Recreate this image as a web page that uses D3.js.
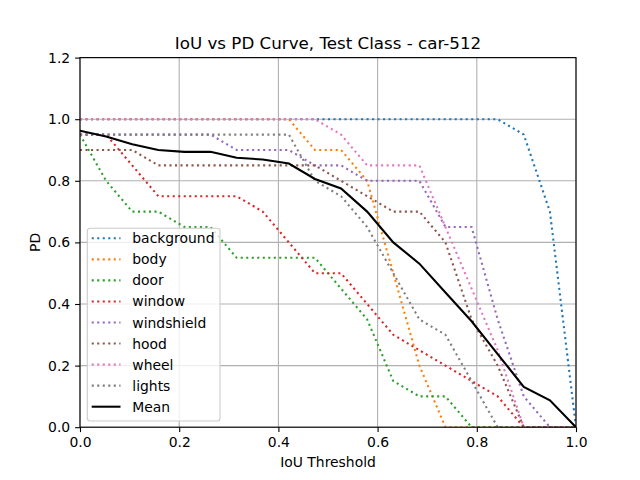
<!DOCTYPE html>
<html>
<head>
<meta charset="utf-8">
<script src="https://cdn.jsdelivr.net/npm/d3@7"></script>
<style>
  body { margin: 0; background: #fff; }
  svg { font-family: "DejaVu Sans", sans-serif; }
</style>
</head>
<body>
<svg id="chart" width="640" height="480"></svg>
<script>
// IoU thresholds (20 evenly spaced points between 0 and 1)
const thresholds = [0, 0.0526, 0.1053, 0.1579, 0.2105, 0.2632, 0.3158, 0.3684, 0.4211, 0.4737,
                    0.5263, 0.5789, 0.6316, 0.6842, 0.7368, 0.7895, 0.8421, 0.8947, 0.9474, 1];

const background = [1, 1, 1, 1, 1, 1, 1, 1, 1, 1, 1, 1, 1, 1, 1, 1, 1, 0.95, 0.7, 0];
const body       = [1, 1, 1, 1, 1, 1, 1, 1, 1, 0.9, 0.9, 0.8, 0.5, 0.2, 0, 0, 0, 0, 0, 0];
const door       = [0.95, 0.8, 0.7, 0.7, 0.65, 0.65, 0.55, 0.55, 0.55, 0.55, 0.45, 0.35, 0.15, 0.1, 0.1, 0, 0, 0, 0, 0];
const window_    = [0.95, 0.95, 0.85, 0.75, 0.75, 0.75, 0.75, 0.7, 0.6, 0.5, 0.5, 0.4, 0.3, 0.25, 0.2, 0.15, 0.1, 0, 0, 0];
const windshield = [0.95, 0.95, 0.95, 0.95, 0.95, 0.95, 0.9, 0.9, 0.9, 0.85, 0.85, 0.8, 0.8, 0.8, 0.65, 0.65, 0.35, 0.1, 0, 0];
const hood       = [0.9, 0.9, 0.9, 0.85, 0.85, 0.85, 0.85, 0.85, 0.85, 0.85, 0.8, 0.75, 0.7, 0.7, 0.6, 0.35, 0.2, 0, 0, 0];
const wheel      = [1, 1, 1, 1, 1, 1, 1, 1, 1, 1, 0.95, 0.85, 0.85, 0.85, 0.65, 0.45, 0.25, 0, 0, 0];
const lights     = [0.95, 0.95, 0.95, 0.95, 0.95, 0.95, 0.95, 0.95, 0.95, 0.8, 0.75, 0.65, 0.5, 0.35, 0.3, 0.15, 0, 0, 0, 0];
const mean       = [0.9625, 0.944, 0.919, 0.9, 0.894, 0.894, 0.875, 0.869, 0.856, 0.806,
                    0.775, 0.7, 0.6, 0.531, 0.4375, 0.344, 0.2375, 0.131, 0.0875, 0];

const names  = ["background", "body", "door", "window", "windshield", "hood", "wheel", "lights", "Mean"];
const colors = ["#1f77b4", "#ff7f0e", "#2ca02c", "#d62728", "#9467bd", "#8c564b", "#e377c2", "#7f7f7f", "#000000"];
const xTicks = [0, 0.2, 0.4, 0.6, 0.8, 1.0];
const yTicks = [0, 0.2, 0.4, 0.6, 0.8, 1.0, 1.2];

const series = [background, body, door, window_, windshield, hood, wheel, lights, mean];

const svg = d3.select("#chart");
const L = 80, R = 576, T = 57.6, B = 427.2;

const gx = d3.scaleLinear().domain([0, 1]).range([L, R]);
const gy = d3.scaleLinear().domain([0, 1.2]).range([B, T]);

// grid
svg.append("g").selectAll("line").data(xTicks).enter().append("line")
    .attr("x1", d => gx(d)).attr("x2", d => gx(d))
    .attr("y1", T).attr("y2", B)
    .attr("stroke", "#b0b0b0").attr("stroke-width", 1.1);
svg.append("g").selectAll("line").data(yTicks).enter().append("line")
    .attr("x1", L).attr("x2", R)
    .attr("y1", d => gy(d)).attr("y2", d => gy(d))
    .attr("stroke", "#b0b0b0").attr("stroke-width", 1.1);

// curves
const linea = d3.line()
    .x((d, i) => gx(thresholds[i]))
    .y(d => gy(d));

const clip = svg.append("clipPath").attr("id", "clip")
    .append("rect").attr("x", L).attr("y", T).attr("width", R - L).attr("height", B - T);

svg.append("g").attr("clip-path", "url(#clip)")
    .selectAll("path").data(series).enter().append("path")
    .attr("d", d => linea(d))
    .attr("fill", "none")
    .attr("stroke", (d, i) => colors[i])
    .attr("stroke-width", 2.08)
    .attr("stroke-dasharray", (d, i) => i < 8 ? "2.08,3.43" : null);

// axes
const ejeX = svg.append("g").attr("transform", "translate(0," + B + ")")
    .call(d3.axisBottom(gx).tickValues(xTicks).tickFormat(d3.format(".1f")).tickSizeOuter(0).tickSize(4.9).tickPadding(4.9));
const ejeY = svg.append("g").attr("transform", "translate(" + L + ",0)")
    .call(d3.axisLeft(gy).tickValues(yTicks).tickFormat(d3.format(".1f")).tickSizeOuter(0).tickSize(4.9).tickPadding(4.9));
[ejeX, ejeY].forEach(function(g) {
    g.select(".domain").remove();
    g.selectAll("line").attr("stroke", "#000").attr("stroke-width", 1.1);
    g.selectAll("text").attr("font-size", "13.9px").attr("fill", "#000")
        .attr("font-family", "DejaVu Sans");
});

// spines
svg.append("rect").attr("x", L).attr("y", T).attr("width", R - L).attr("height", B - T)
    .attr("fill", "none").attr("stroke", "#000").attr("stroke-width", 1.1);

// labels
svg.append("text").attr("x", (L + R) / 2).attr("y", 48.5)
    .attr("text-anchor", "middle").attr("font-size", "16.7px")
    .text("IoU vs PD Curve, Test Class - car-512");
svg.append("text").attr("x", (L + R) / 2).attr("y", 467)
    .attr("text-anchor", "middle").attr("font-size", "13.9px")
    .text("IoU Threshold");
svg.append("text").attr("transform", "translate(40," + ((T + B) / 2) + ") rotate(-90)")
    .attr("text-anchor", "middle").attr("font-size", "13.9px")
    .text("PD");

// legend
const leg = svg.append("g");
leg.append("rect").attr("x", 87.3).attr("y", 228.3).attr("width", 132.7).attr("height", 192.7)
    .attr("rx", 3).attr("ry", 3)
    .attr("fill", "#fff").attr("fill-opacity", 0.8)
    .attr("stroke", "#cccccc").attr("stroke-width", 1.1);
const items = leg.selectAll("g.item").data(names).enter().append("g")
    .attr("transform", (d, i) => "translate(0," + (238.3 + i * 21.05) + ")");
items.append("line")
    .attr("x1", 91.7).attr("x2", 120.5).attr("y1", 0).attr("y2", 0)
    .attr("stroke", (d, i) => colors[i])
    .attr("stroke-width", 2.08)
    .attr("stroke-dasharray", (d, i) => i < 8 ? "2.08,3.43" : null);
items.append("text")
    .attr("x", 132.3).attr("y", 0).attr("dy", "0.36em")
    .attr("font-size", "13.9px")
    .text(d => d);
</script>
</body>
</html>
